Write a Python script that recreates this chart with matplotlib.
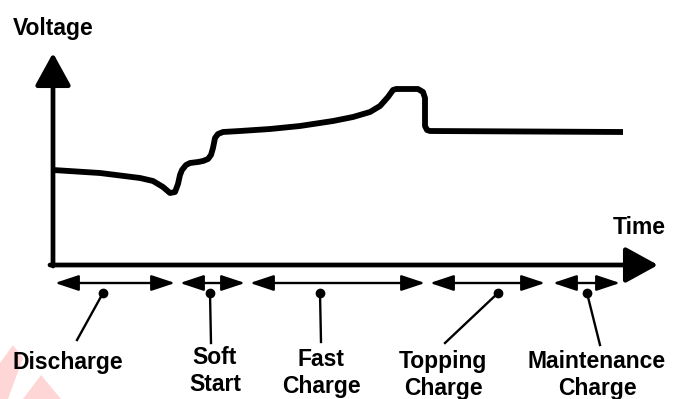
import matplotlib.pyplot as plt
from matplotlib.patches import Polygon

# charging profile, time vs voltage (arbitrary units, origin at the axes corner)
time = [0, 47, 87, 100, 110, 117, 122, 125, 127, 129, 133, 137, 145, 150,
        155, 158, 160, 162, 165, 170, 187, 217, 247, 280, 300, 317,
        327, 335, 340, 343, 365, 370, 372, 372, 374, 377, 570]
voltage = [93, 90, 85, 82, 76, 70, 71, 79, 88, 93, 98, 100, 101, 102,
           104, 108, 115, 125, 129, 131, 132, 134, 137, 142, 146, 151,
           157, 166, 173, 174, 174, 171, 165, 137, 133, 132, 131]

phases = ["Discharge", "Soft\nStart", "Fast\nCharge", "Topping\nCharge", "Maintenance\nCharge"]
phase_start = [2, 127, 197, 377, 500]
phase_end = [122, 192, 372, 492, 567]
dot_t = [50, 157, 267, 445, 534]
leader_end = [(24, -77), (158, -80), (268, -79), (392, -80), (547, -82)]
label_pos = [(15, -100), (162, -108), (268, -110), (390, -112), (544, -112)]

plt.rcParams['font.family'] = ['Liberation Sans', 'DejaVu Sans']

fig = plt.figure(figsize=(6.75, 3.99), dpi=100)
ax = fig.add_axes([0, 0, 1, 1])
ax.set_xlim(-53, 622)
ax.set_ylim(-136, 263)
ax.axis('off')

# faint watermark in the corner
ax.add_patch(Polygon([(-53, -100), (-40, -82), (-30, -95), (-45, -136), (-53, -136)],
                     closed=True, color='#ffd6d6', lw=0, zorder=0))
ax.add_patch(Polygon([(-30, -136), (-12, -112), (8, -136)],
                     closed=True, color='#ffd6d6', lw=0, zorder=0))

# axes arrows
ax.annotate('', xy=(0, 210), xytext=(0, -3),
            arrowprops=dict(arrowstyle='-|>,head_length=1.0,head_width=0.55',
                            lw=3.4, color='black', mutation_scale=20, shrinkA=0, shrinkB=0))
ax.annotate('', xy=(605, -2), xytext=(-3, -2),
            arrowprops=dict(arrowstyle='-|>,head_length=1.0,head_width=0.55',
                            lw=3.4, color='black', mutation_scale=20, shrinkA=0, shrinkB=0))
ax.text(0, 235, "Voltage", ha='center', va='center', fontsize=16.5, fontweight='bold')
ax.text(586, 35, "Time", ha='center', va='center', fontsize=16.5, fontweight='bold')

# voltage curve
ax.plot(time, voltage, color='black', lw=4.2, solid_joinstyle='round', solid_capstyle='butt')

# phase ranges with labels
for name, t0, t1, td, (lx, ly), (tx, ty) in zip(phases, phase_start, phase_end, dot_t,
                                                leader_end, label_pos):
    ax.annotate('', xy=(t1, -20), xytext=(t0, -20),
                arrowprops=dict(arrowstyle='<|-|>,head_length=1.2,head_width=0.4',
                                lw=1.7, color='black', mutation_scale=12,
                                shrinkA=0, shrinkB=0))
    ax.plot([td, lx], [-30, ly], color='black', lw=1.7)
    ax.plot(td, -30, 'o', color='black', ms=6)
    ax.text(tx, ty, name, ha='center', va='center', fontsize=16.5,
            fontweight='bold', linespacing=1.2)

fig.savefig('out.png', dpi=100)
